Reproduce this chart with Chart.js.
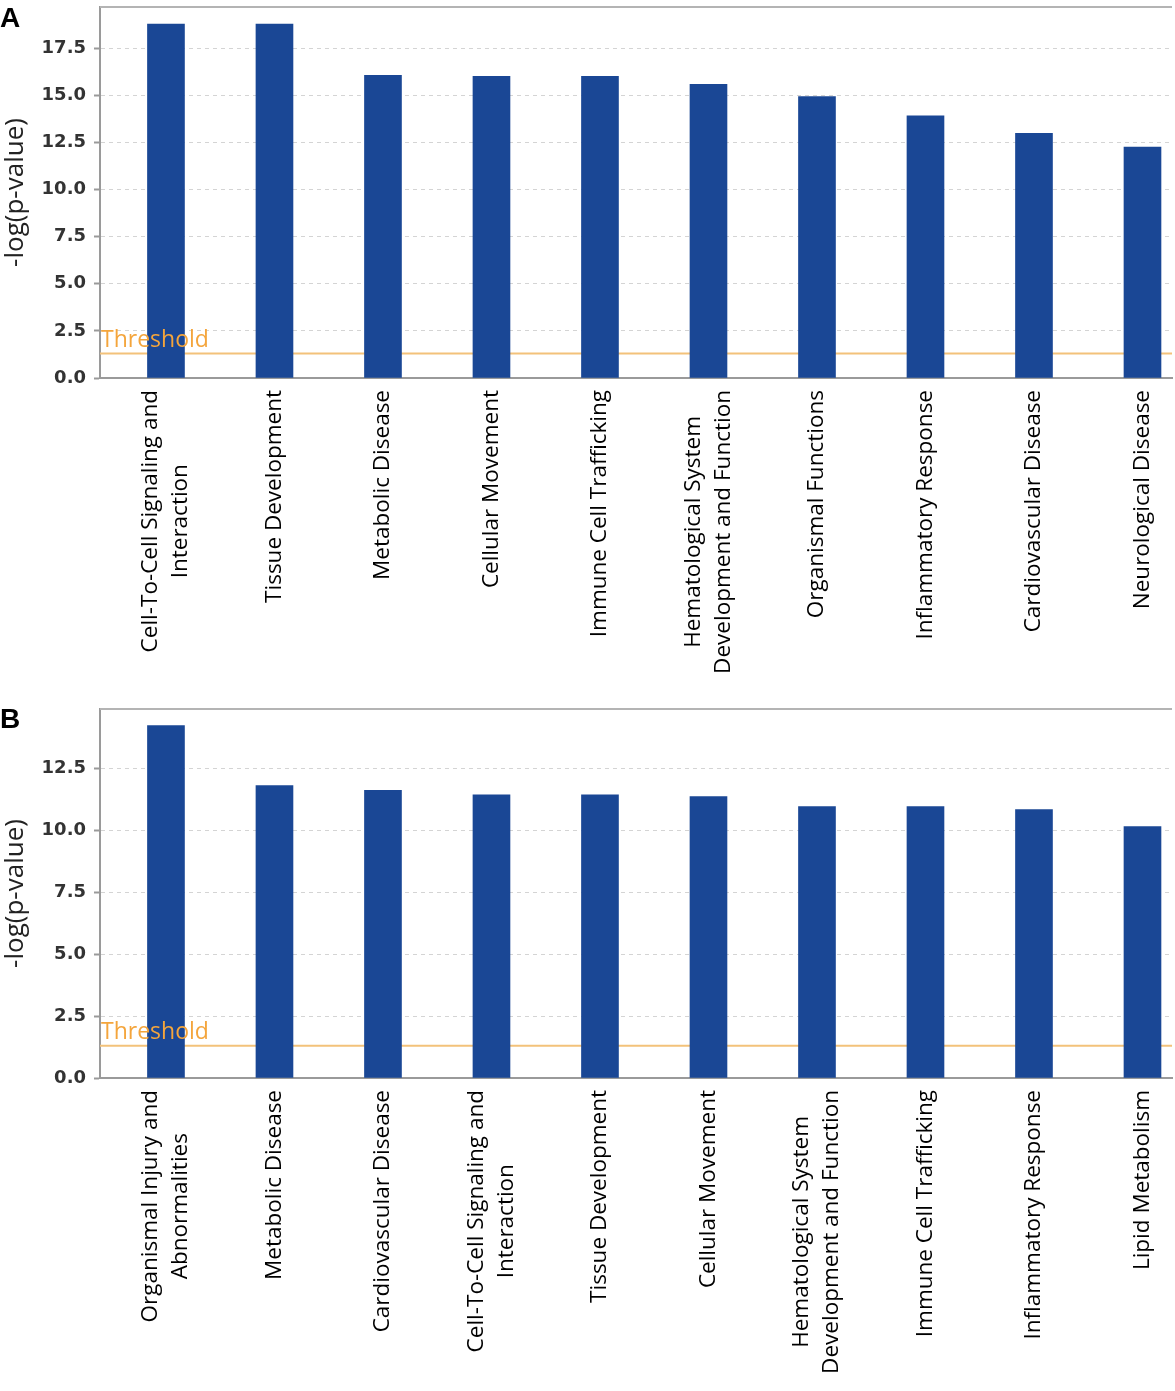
<!DOCTYPE html>
<html><head><meta charset="utf-8">
<script src="https://cdn.jsdelivr.net/npm/chart.js@4/dist/chart.umd.min.js"></script>
<style>
html,body{margin:0;padding:0;background:#fff;overflow:hidden;}
#wrap{position:relative;width:1175px;height:1391px;}
.panel{position:absolute;left:0;width:1175px;}
.tag{position:absolute;left:0;font:bold 28px "Liberation Sans",Arial,sans-serif;color:#000;line-height:32px;}
</style></head><body>
<div id="wrap">
<div class="panel" style="top:0;height:695px"><canvas id="cA" width="1175" height="695"></canvas></div>
<div class="panel" style="top:695px;height:696px"><canvas id="cB" width="1175" height="696"></canvas></div>
<div class="tag" style="top:2px">A</div>
<div class="tag" style="top:703px">B</div>
</div>
<script>
// ---- data ----
const categoriesA = [
  ["Cell-To-Cell Signaling and", "Interaction"],
  ["Tissue Development"],
  ["Metabolic Disease"],
  ["Cellular Movement"],
  ["Immune Cell Trafficking"],
  ["Hematological System", "Development and Function"],
  ["Organismal Functions"],
  ["Inflammatory Response"],
  ["Cardiovascular Disease"],
  ["Neurological Disease"]
];
const valuesA = [18.79, 18.79, 16.07, 16.01, 16.01, 15.59, 14.93, 13.91, 12.99, 12.26];

const categoriesB = [
  ["Organismal Injury and", "Abnormalities"],
  ["Metabolic Disease"],
  ["Cardiovascular Disease"],
  ["Cell-To-Cell Signaling and", "Interaction"],
  ["Tissue Development"],
  ["Cellular Movement"],
  ["Hematological System", "Development and Function"],
  ["Immune Cell Trafficking"],
  ["Inflammatory Response"],
  ["Lipid Metabolism"]
];
const valuesB = [14.22, 11.80, 11.61, 11.43, 11.43, 11.36, 10.95, 10.95, 10.83, 10.15];

const yTickStep = 2.5;
const thresholdA = 1.3;
const thresholdB = 1.3;
const yMaxA = 19.69;
const yMaxB = 14.89;
const axisTitle = "-log(p-value)";
const thresholdLabel = "Threshold";

// ---- drawing ----
const BAR = '#1a4795';
const AXIS = '#9a9a9a';

const framePlugin = {
  id: 'frame',
  beforeDatasetsDraw(chart, args, opts) {
    const {ctx, chartArea: a, scales: {y}} = chart;
    const ty = y.getPixelForValue(opts.threshold);
    ctx.save();
    ctx.strokeStyle = '#f3c27a';
    ctx.lineWidth = 2;
    ctx.beginPath(); ctx.moveTo(a.left, ty); ctx.lineTo(a.right, ty); ctx.stroke();
    ctx.strokeStyle = '#b4b4b4';
    ctx.lineWidth = 2;
    ctx.beginPath(); ctx.moveTo(a.left, a.top); ctx.lineTo(a.right, a.top); ctx.stroke();
    ctx.restore();
  },
  afterDatasetsDraw(chart, args, opts) {
    const {ctx, chartArea: a, scales: {y}} = chart;
    const ty = y.getPixelForValue(opts.threshold);
    ctx.save();
    ctx.fillStyle = '#f4a53c';
    ctx.font = '23px "Open Sans"';
    ctx.textAlign = 'left';
    ctx.textBaseline = 'alphabetic';
    ctx.fillText(thresholdLabel, a.left + 1, ty - 7);
    ctx.restore();
  },
  afterDraw(chart, args, opts) {
    const {ctx, chartArea: a, scales: {x}} = chart;
    const lh = 30;
    ctx.save();
    ctx.fillStyle = '#000';
    ctx.font = '22.5px "Open Sans"';
    ctx.textAlign = 'center';
    ctx.textBaseline = 'middle';
    opts.labels.forEach((lines, i) => {
      const px = x.getPixelForValue(i);
      let w = 0;
      lines.forEach(l => { w = Math.max(w, ctx.measureText(l).width); });
      ctx.save();
      ctx.translate(px, a.bottom + 12);
      ctx.rotate(-Math.PI / 2);
      lines.forEach((l, j) => {
        ctx.fillText(l, -w / 2, (j - (lines.length - 1) / 2) * lh);
      });
      ctx.restore();
    });
    ctx.restore();
  }
};

function makeChart(id, labels, values, yMax, threshold, padTop, xHeight) {
  const data = values.map((v, i) => ({x: i, y: v}));
  return new Chart(document.getElementById(id), {
    type: 'bar',
    data: { datasets: [{ data, backgroundColor: BAR, borderWidth: 0, barThickness: 37 }] },
    plugins: [framePlugin],
    options: {
      responsive: false,
      animation: false,
      layout: { padding: { top: padTop, right: 3, left: 0, bottom: 0 } },
      plugins: {
        legend: { display: false },
        tooltip: { enabled: false },
        frame: { threshold, labels }
      },
      scales: {
        x: {
          type: 'linear',
          offset: false,
          min: -0.608,
          max: 9.272,
          grid: { display: false, offset: false },
          border: { display: true, color: AXIS, width: 2 },
          ticks: { display: false },
          afterBuildTicks(s) { s.ticks = labels.map((_, i) => ({ value: i })); },
          afterFit(s) { s.height = xHeight; s.paddingLeft = 0; s.paddingRight = 0; }
        },
        y: {
          min: 0,
          max: yMax,
          ticks: {
            stepSize: yTickStep,
            includeBounds: false,
            callback: v => Number(v).toFixed(1),
            color: '#333',
            font: { family: '"DejaVu Sans"', size: 18, weight: 'bold' },
            padding: 8
          },
          grid: {
            color: c => (c.tick && c.tick.value === 0) ? 'rgba(0,0,0,0)' : '#d4d4d4',
            lineWidth: 1,
            drawTicks: true,
            tickLength: 6,
            tickColor: AXIS,
            tickWidth: 2
          },
          border: { display: true, color: AXIS, width: 2, dash: [4, 4] },
          title: {
            display: true,
            text: axisTitle,
            color: '#222',
            font: { family: '"Open Sans"', size: 26 },
            padding: { top: 0, bottom: 0 }
          },
          afterFit(s) { s.width = 100; s.paddingTop = 0; s.paddingBottom = 0; }
        }
      }
    }
  });
}

makeChart('cA', categoriesA, valuesA, yMaxA, thresholdA, 7, 317);
makeChart('cB', categoriesB, valuesB, yMaxB, thresholdB, 14, 313);
</script>
</body></html>
